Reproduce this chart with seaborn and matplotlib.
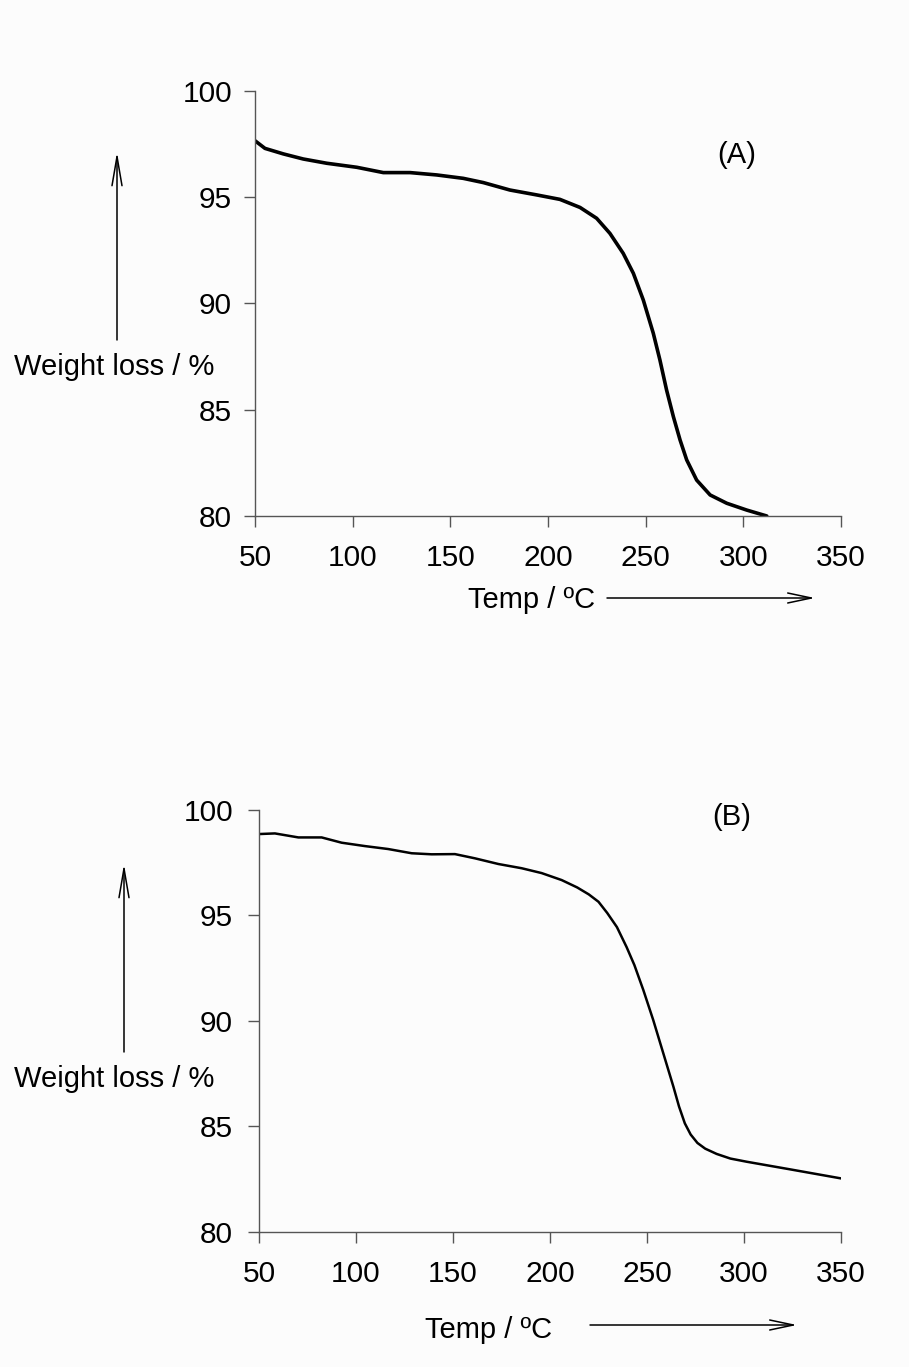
import matplotlib
matplotlib.use("Agg")
import matplotlib.pyplot as plt
import seaborn as sns
import pandas as pd
from matplotlib.patches import FancyArrowPatch

# ---- data ----
temp_a = [50, 55.1, 64.5, 74.7, 86.7, 102.1, 115.7, 129.4, 143.0, 156.6, 166.9, 180.5,
          194.2, 206.1, 216.4, 224.9, 231.7, 238.5, 243.7, 248.8, 253.9, 257.3, 260.7,
          264.2, 267.6, 271.0, 276.1, 283.0, 291.5, 301.7, 312]
weight_a = [97.66, 97.30, 97.04, 96.80, 96.60, 96.41, 96.16, 96.16, 96.05, 95.89, 95.69, 95.34,
            95.11, 94.90, 94.52, 94.01, 93.30, 92.36, 91.42, 90.16, 88.60, 87.34, 85.93,
            84.67, 83.58, 82.64, 81.69, 80.99, 80.60, 80.28, 80.0]

temp_b = [50, 58.2, 70.3, 82.3, 92.6, 104.6, 116.6, 128.7, 139.0, 151.0, 161.3, 173.4,
          185.4, 195.7, 206.0, 214.0, 220.0, 225.0, 229.5, 234.5, 239.5, 243.5, 248.1, 253.2,
          258.4, 263.6, 266.5, 269.5, 272.5, 276.0, 280.0, 285.9, 293.0, 301.4, 323.7, 350]
weight_b = [98.86, 98.89, 98.70, 98.70, 98.45, 98.29, 98.15, 97.95, 97.90, 97.91, 97.71, 97.44,
            97.24, 97.01, 96.68, 96.33, 96.0, 95.65, 95.12, 94.45, 93.5, 92.65, 91.47, 90.05,
            88.47, 86.89, 85.95, 85.15, 84.62, 84.22, 83.95, 83.70, 83.48, 83.33, 82.97, 82.54]

x_ticks = [50, 100, 150, 200, 250, 300, 350]
y_ticks = [80, 85, 90, 95, 100]
panel_labels = ["(A)", "(B)"]
y_label = "Weight loss / %"
x_label_a = "Temp / \u00baC"
x_label_b = "Temp / \u00baC"

sns.set_theme(style="white")
plt.rcParams['font.family'] = ['Liberation Sans', 'DejaVu Sans']
plt.rcParams['text.color'] = 'black'

W, H = 909, 1367
fig = plt.figure(figsize=(W / 100, H / 100), dpi=100, facecolor="#fcfcfc")

def fx(px):
    return px / W

def fy(py):
    return 1 - py / H

def make_axes(l, r, t, b):
    return fig.add_axes([fx(l), fy(b), fx(r) - fx(l), fy(t) - fy(b)])

axA = make_axes(255, 841, 91, 516)
axB = make_axes(259, 841, 810, 1232)

dfA = pd.DataFrame({"temp": temp_a, "weight": weight_a})
dfB = pd.DataFrame({"temp": temp_b, "weight": weight_b})

sns.lineplot(data=dfA, x="temp", y="weight", ax=axA, color="black", lw=2.6)
sns.lineplot(data=dfB, x="temp", y="weight", ax=axB, color="black", lw=1.8)

for ax, ypad in ((axA, 8.6), (axB, 10.8)):
    ax.set_facecolor("#fcfcfc")
    ax.set_xlim(50, 350)
    ax.set_ylim(80, 100)
    ax.set_xticks(x_ticks)
    ax.set_yticks(y_ticks)
    ax.set_xlabel("")
    ax.set_ylabel("")
    for s in ("top", "right"):
        ax.spines[s].set_visible(False)
    for s in ("left", "bottom"):
        ax.spines[s].set_color("#555555")
        ax.spines[s].set_linewidth(1.0)
    ax.tick_params(axis="both", which="both", direction="out", length=8, width=1.0,
                   color="#555555", labelsize=21.5, labelcolor="black")
    ax.tick_params(axis="x", pad=12, bottom=True)
    ax.tick_params(axis="y", pad=ypad, left=True)
    ax.grid(False)

# panel labels
fig.text(fx(737), fy(155), panel_labels[0], ha="center", va="center", fontsize=21, color="black")
fig.text(fx(732), fy(817), panel_labels[1], ha="center", va="center", fontsize=21, color="black")

# y labels and arrows
for (arr_x, y0, y1, lab_y) in [(117, 340, 152, 367), (124, 1052, 864, 1079)]:
    fig.text(fx(14), fy(lab_y), y_label, ha="left", va="center", fontsize=21, color="black")
    fig.add_artist(FancyArrowPatch((fx(arr_x), fy(y0)), (fx(arr_x), fy(y1)),
                                   transform=fig.transFigure,
                                   arrowstyle="->,head_length=21,head_width=3.6",
                                   color="black", lw=1.1, mutation_scale=1, shrinkA=0, shrinkB=0))

# x labels and arrows
for (lab, lab_l, lab_y, a0, a1, ay) in [(x_label_a, 468, 600, 607, 815, 598),
                                        (x_label_b, 425, 1330, 590, 797, 1325)]:
    fig.text(fx(lab_l), fy(lab_y), lab, ha="left", va="center", fontsize=21, color="black")
    fig.add_artist(FancyArrowPatch((fx(a0), fy(ay)), (fx(a1), fy(ay)),
                                   transform=fig.transFigure,
                                   arrowstyle="->,head_length=17,head_width=3.6",
                                   color="black", lw=1.1, mutation_scale=1, shrinkA=0, shrinkB=0))

fig.savefig("out.png", dpi=100, facecolor=fig.get_facecolor())
